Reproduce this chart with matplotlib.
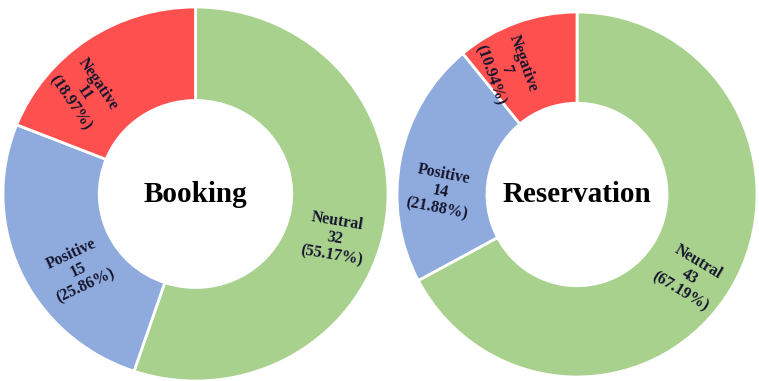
import numpy as np
import matplotlib.pyplot as plt

labels = ["Neutral", "Positive", "Negative"]
booking = [32, 15, 11]
reservation = [43, 14, 7]
colors = ["#A9D18E", "#8FAADC", "#FF5050"]

W, H = 759, 381
fig = plt.figure(figsize=(W / 100, H / 100), dpi=100)


def donut(box, values, title, shifts, radii):
    x0, y0, x1, y1 = box  # pixel box, y from top
    ax = fig.add_axes([x0 / W, 1 - y1 / H, (x1 - x0) / W, (y1 - y0) / H])
    total = sum(values)
    ax.pie(values, colors=colors, startangle=90, counterclock=False,
           radius=1, wedgeprops=dict(width=0.5, edgecolor="white", linewidth=2))
    ax.set_aspect("auto")
    ax.set_xlim(-1, 1)
    ax.set_ylim(-1, 1)
    start = 90
    for lab, v, sh, r in zip(labels, values, shifts, radii):
        span = v / total * 360
        mid = start - span / 2
        start -= span
        rot = mid
        while rot > 90:
            rot -= 180
        while rot < -90:
            rot += 180
        a = np.radians(mid + sh)
        ax.text(r * np.cos(a), r * np.sin(a),
                f"{lab}\n{v}\n({v / total * 100:.2f}%)",
                ha="center", va="center", rotation=rot, rotation_mode="anchor",
                fontsize=11.5, fontweight="bold", family="Liberation Serif",
                color="#15152e", linespacing=1.1)
    ax.text(0, 0, title, ha="center", va="center", fontsize=21,
            fontweight="bold", family="Liberation Serif", color="black")
    ax.axis("off")


donut((3, 7, 388, 381), booking, "Booking", [-9, 9, 13], [0.76, 0.73, 0.79])
donut((397, 12, 757, 377), reservation, "Reservation", [-5, 10, 10], [0.77, 0.76, 0.79])

fig.savefig("out.png", dpi=100)
